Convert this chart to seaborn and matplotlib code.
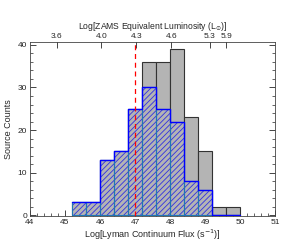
import matplotlib
matplotlib.use("Agg")
import matplotlib.pyplot as plt
import numpy as np
import seaborn as sns
from matplotlib.ticker import MultipleLocator

sns.set_style("ticks")
plt.rcParams["font.family"] = ["Liberation Sans", "DejaVu Sans"]
plt.rcParams["hatch.linewidth"] = 0.6

# histogram data (log Lyman continuum flux, bin width 0.4)
bin_edges = [45.2, 45.6, 46.0, 46.4, 46.8, 47.2, 47.6, 48.0, 48.4, 48.8, 49.2, 49.6, 50.0]
all_counts = [3, 3, 13, 15, 25, 36, 36, 39, 23, 15, 2, 2]
sub_counts = [3, 3, 13, 15, 25, 30, 25, 22, 8, 6, 0, 0]

# top axis: ZAMS equivalent luminosity
top_pos = [44.76, 46.04, 47.04, 48.04, 49.13, 49.6]
top_labels = ["3.6", "4.0", "4.3", "4.6", "5.3", "5.9"]
cut_value = 47.0

centers = [(a + b) / 2 for a, b in zip(bin_edges[:-1], bin_edges[1:])]

fig = plt.figure(figsize=(2.93, 2.45), dpi=100)
ax = fig.add_axes([0.102, 0.118, 0.837, 0.711])

sns.histplot(x=centers, weights=all_counts, bins=bin_edges, ax=ax,
             color="#b4b4b4", alpha=1, edgecolor="#333333", linewidth=0.8)
sns.histplot(x=centers, weights=sub_counts, bins=bin_edges, ax=ax,
             facecolor="#b4b4b4", alpha=1, edgecolor="#3030e0", linewidth=0, hatch="//////")
sns.histplot(x=centers, weights=sub_counts, bins=bin_edges, ax=ax,
             fill=False, edgecolor="#333333", linewidth=0.8)
sns.histplot(x=centers, weights=sub_counts, bins=bin_edges, ax=ax,
             element="step", fill=False, color="blue", linewidth=1.0)

ax.axvline(cut_value, color="red", linestyle=(0, (4, 3)), linewidth=0.9, zorder=10)

ax.set_xlim(44, 51)
ax.set_ylim(-0.2, 40.7)
ax.xaxis.set_major_locator(MultipleLocator(1))
ax.xaxis.set_minor_locator(MultipleLocator(0.2))
ax.yaxis.set_major_locator(MultipleLocator(10))
ax.yaxis.set_minor_locator(MultipleLocator(2))
ax.tick_params(which="both", direction="in", top=False, right=True, labelsize=6, pad=2)
ax.tick_params(which="major", length=4, width=0.6)
ax.tick_params(which="minor", length=2, width=0.5)
ax.set_xlabel("Log[Lyman Continuum Flux (s$^{-1}$)]", fontsize=6.5, labelpad=1)
ax.set_ylabel("Source Counts", fontsize=6.5, labelpad=3)
for s in ax.spines.values():
    s.set_linewidth(0.6)
    s.set_color("#444444")

top = ax.twiny()
top.set_xlim(ax.get_xlim())
top.set_xticks(top_pos)
top.set_xticklabels(top_labels)
top.tick_params(direction="in", length=4, width=0.6, labelsize=6, pad=1.5)
for s in top.spines.values():
    s.set_visible(False)
top.set_xlabel("Log[ZAMS Equivalent Luminosity (L$_{\\odot}$)]", fontsize=6.2, labelpad=2.5)

fig.savefig("out.png", dpi=100)
